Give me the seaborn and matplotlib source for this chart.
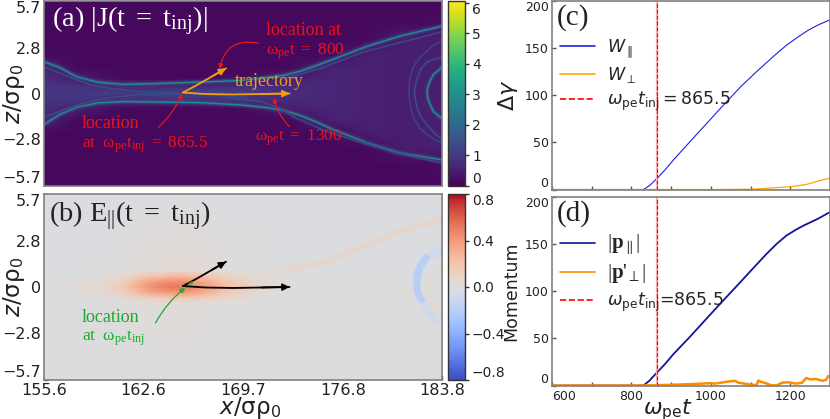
import numpy as np
import pandas as pd
import matplotlib
matplotlib.use("Agg")
import matplotlib.pyplot as plt
from matplotlib.transforms import ScaledTranslation
import seaborn as sns

# time series (c) and (d)
t_w_par = [600, 700, 800, 830, 845, 865, 885, 905, 948, 1000, 1036, 1075, 1115, 1157, 1190, 1220, 1245, 1272, 1300]
w_par = [0, 0, 0, 0, 4, 12, 21, 31, 51, 75, 91.5, 109, 125, 141, 153, 162, 169, 175, 180]
t_w_perp = [600, 800, 1000, 1100, 1160, 1200, 1240, 1270, 1300]
w_perp = [0, 0, 0, 0.3, 1.8, 3, 5.3, 9, 12]
t_p_par = [600, 700, 800, 830, 845, 864, 885, 905, 948, 1000, 1032, 1075, 1110, 1141, 1165, 1190, 1215, 1235, 1245, 1270, 1300]
p_par = [0, 0, 0, 0, 5, 13.7, 23, 33, 52, 76, 90.6, 110, 126, 140, 150, 159, 165.5, 170, 172, 177, 184]
t_p_perp = [600, 830, 880, 950, 1000, 1010, 1040, 1060, 1070, 1100, 1115, 1120, 1125, 1135, 1150, 1165, 1180, 1195,
            1215, 1230, 1240, 1250, 1265, 1280, 1290, 1295, 1300]
p_perp = [0, 0, 0.5, 1.5, 2.5, 2, 4, 5, 3, 1, 0.5, 5.5, 4, 3, 0.5, 0, 3, 3.5, 2, 3, 8, 6.5, 7, 5, 6, 10, 9]
t_inj = 865.5

x_ticks = [155.6, 159.1, 162.6, 166.15, 169.7, 173.25, 176.8, 180.3, 183.8]
x_labels = ["155.6", "", "162.6", "", "169.7", "", "176.8", "", "183.8"]
z_ticks = [-5.7, -2.8, 0, 2.8, 5.7]
z_labels = ["\u22125.7", "\u22122.8", "0", "2.8", "5.7"]

# |J| coarse map
j_x = [155.6, 157.9, 161.2, 165.0, 170.0, 173.0, 176.0, 178.5, 181.0, 183.8]
j_z = [-5.7, -4.4, -3.4, -2.4, -1.6, -0.9, -0.45, 0, 0.45, 0.9, 1.6, 2.4, 3.4, 4.4, 5.7]
j_map = [
    [.12, .12, .12, .12, .12, .12, .12, .12, .12, .12],
    [.12, .12, .12, .12, .12, .12, .12, .12, .12, .2],
    [.12, .12, .12, .12, .12, .12, .12, .15, .45, .5],
    [.15, .12, .12, .12, .12, .12, .15, .5, .5, .5],
    [.6, .15, .12, .12, .12, .15, .55, .55, .5, .5],
    [.8, .5, .15, .12, .2, .5, .65, .55, .5, .5],
    [.9, .9, .6, .6, .85, .7, .65, .55, .5, .5],
    [.9, 1.0, 1.1, 1.4, 1.1, .8, .65, .55, .5, .5],
    [.9, .9, .6, .6, .85, .7, .65, .55, .5, .5],
    [.8, .5, .15, .12, .2, .5, .65, .55, .5, .5],
    [.6, .15, .12, .12, .12, .15, .55, .55, .5, .5],
    [.15, .12, .12, .12, .12, .12, .15, .5, .5, .5],
    [.12, .12, .12, .12, .12, .12, .12, .15, .45, .5],
    [.12, .12, .12, .12, .12, .12, .12, .12, .15, .2],
    [.12, .12, .12, .12, .12, .12, .12, .12, .12, .12],
]

# bright sheets in |J|
top_x = [155.7, 156.7, 157.9, 159.4, 161.2, 163.1, 167.1, 169.5, 171.4, 172.6, 173.7, 174.9, 176.1, 178.5, 180.8, 183.8]
top_z = [1.92, 1.61, 1.03, 0.70, 0.56, 0.60, 0.72, 0.80, 0.99, 1.12, 1.36, 1.72, 2.11, 2.91, 3.53, 4.15]
low_x = [155.7, 156.7, 157.9, 159.4, 161.2, 166.6, 169.5, 171.4, 172.6, 173.7, 174.9, 176.1, 178.5, 180.8, 183.8]
low_z = [-1.86, -1.30, -0.85, -0.58, -0.50, -0.56, -0.70, -0.87, -1.04, -1.34, -1.75, -2.23, -3.04, -3.66, -4.09]
thin_tl_x = [155.7, 157.3, 159.0, 160.6, 162.3, 165.4]
thin_tl_z = [1.61, 1.05, 0.50, 0.28, 0.10, 0.03]
thin_bl_x = [155.7, 157.3, 159.0, 160.6, 162.3, 165.4]
thin_bl_z = [-1.43, -0.90, -0.43, -0.22, -0.08, -0.03]
thin_c_x = [165.4, 168.5, 170.0]
thin_c_z = [0.03, -0.15, -0.25]
thin_br_x = [168.5, 171.0, 172.3, 173.4, 175.8, 180.5, 183.8]
thin_br_z = [-0.25, -0.50, -0.90, -1.50, -2.40, -3.65, -4.30]
thin_tr_x = [172.5, 175.4, 178.2, 183.8]
thin_tr_z = [0.87, 1.60, 2.55, 3.80]
arc1_x = [183.8, 183.2, 182.9, 182.78, 182.74, 182.78, 182.9, 183.2, 183.8]
arc1_z = [1.61, 1.18, 0.68, 0.35, 0.06, -0.25, -0.56, -1.12, -1.55]
arc2_x = [183.8, 183.2, 182.7, 182.3, 182.05, 181.9, 181.85, 181.9, 182.05, 182.3, 182.7, 183.2, 183.8]
arc2_z = [2.23, 2.1, 1.92, 1.5, 0.95, 0.43, 0.05, -0.37, -0.9, -1.43, -1.9, -2.4, -2.85]
arc3_x = [183.8, 183.2, 182.7, 182.2, 181.75, 181.5, 181.45, 181.55, 181.8, 182.2, 182.7, 183.3, 183.8]
arc3_z = [3.22, 3.0, 2.6, 2.2, 1.6, 0.87, 0.0, -0.8, -1.5, -2.1, -2.5, -2.85, -3.04]

# E parallel coarse map
e_x = [155.6, 159.6, 161.2, 162.0, 163.1, 164.5, 165.6, 167.0, 168.4, 170.2, 172.0, 183.8]
e_z = [-5.7, -1.0, -0.65, -0.3, 0.0, 0.3, 0.65, 1.0, 5.7]
e_map = [
    [0, 0, 0, 0, 0, 0, 0, 0, 0, 0, 0, 0],
    [0, 0, 0, .01, .01, .02, .02, .01, .01, 0, 0, 0],
    [0, 0, .04, .08, .14, .18, .18, .14, .08, .03, 0, 0],
    [0, .03, .13, .23, .35, .42, .42, .32, .18, .08, .01, 0],
    [0, .04, .16, .28, .42, .52, .52, .38, .24, .12, .02, 0],
    [-.01, .03, .13, .24, .37, .46, .46, .34, .20, .09, .01, -.01],
    [-.01, .01, .06, .12, .20, .26, .26, .20, .11, .04, 0, -.01],
    [-.015, -.01, 0, .02, .03, .04, .04, .03, .01, 0, -.01, -.015],
    [-.015, -.015, -.015, -.015, -.015, -.015, -.015, -.015, -.015, -.015, -.015, -.015],
]
streak_x = [171.0, 173.0, 176.1, 178.5, 180.8, 183.8]
streak_z = [0.70, 1.05, 1.67, 2.6, 3.4, 4.15]
blue_arc_x = [183.8, 182.7, 182.25, 182.05, 182.0, 182.1, 182.35, 182.9, 183.4]
blue_arc_z = [2.3, 1.8, 1.3, 0.7, 0.0, -0.4, -0.8, -1.6, -2.1]
blue_nose_x = [182.7, 182.25, 182.05, 182.0, 182.1, 182.35]
blue_nose_z = [1.8, 1.3, 0.7, 0.0, -0.4, -0.8]
pink_arc_x = [183.8, 183.0, 182.8, 182.9, 183.8]
pink_arc_z = [1.45, 0.6, -0.2, -1.0, -1.7]

# particle path
up_x = [165.45, 166.5, 167.5, 168.5]
up_z = [0.06, 0.55, 1.05, 1.55]
right_x = [165.45, 167.0, 169.0, 171.0, 173.0]
right_z = [0.06, -0.03, -0.06, -0.03, 0.0]

sns.set_style("ticks")
plt.rcParams["mathtext.rm"] = "Liberation Serif"
plt.rcParams["mathtext.it"] = "Liberation Serif:italic"
plt.rcParams["mathtext.bf"] = "Liberation Serif:bold"

W, H = 830, 419
fig = plt.figure(figsize=(W / 100, H / 100), dpi=100)


def box(l, t, r, b):
    return [l / W, 1 - b / H, (r - l) / W, (b - t) / H]


ax_a = fig.add_axes(box(44, 1, 442, 186))
ax_b = fig.add_axes(box(44, 194, 442, 380))
cax_a = fig.add_axes(box(448, 1, 465, 186))
cax_b = fig.add_axes(box(448, 194, 465, 380))
ax_c = fig.add_axes(box(552, 1, 830, 190))
ax_d = fig.add_axes(box(552, 197, 830, 386))

GREY = "#808080"
INK = "#222222"
SERIF = dict(family="Liberation Serif", math_fontfamily="custom")
vir = plt.get_cmap("viridis")
cw = plt.get_cmap("coolwarm")
mesh_a = ax_a.pcolormesh(j_x, j_z, np.array(j_map), shading="gouraud", cmap=vir, vmin=0, vmax=6.05)
mesh_b = ax_b.pcolormesh(e_x, e_z, np.array(e_map), shading="gouraud", cmap=cw, vmin=-0.8, vmax=0.8)


def curve(ax, xs, ys, color, lw, alpha=1.0, ls="-"):
    sns.lineplot(x=xs, y=ys, ax=ax, estimator=None, sort=False, color=color, linewidth=lw,
                 alpha=alpha, linestyle=ls, legend=False)


def sheet(xs, zs, peak, wide=1.0):
    curve(ax_a, xs, zs, vir(peak * 0.5 / 6.05), 5 * wide, 0.18)
    curve(ax_a, xs, zs, vir(peak * 0.7 / 6.05), 2.8 * wide, 0.4)
    curve(ax_a, xs, zs, vir(peak / 6.05), 1.0 * wide)


sheet(top_x, top_z, 2.9)
sheet(low_x, low_z, 2.9)
for xs, zs in [(thin_tl_x, thin_tl_z), (thin_bl_x, thin_bl_z), (thin_c_x, thin_c_z),
               (thin_br_x, thin_br_z), (thin_tr_x, thin_tr_z)]:
    sheet(xs, zs, 1.6, 0.6)
sheet(arc1_x, arc1_z, 3.2, 0.8)
sheet(arc2_x, arc2_z, 1.7, 0.6)
sheet(arc3_x, arc3_z, 1.4, 0.6)

curve(ax_b, streak_x, streak_z, cw(0.5 + 0.06 / 1.6), 6, 0.5)
curve(ax_b, streak_x[1:], streak_z[1:], cw(0.5 + 0.10 / 1.6), 2.5, 0.6)
curve(ax_b, pink_arc_x, pink_arc_z, cw(0.5 + 0.06 / 1.6), 3, 0.5)
curve(ax_b, blue_arc_x, blue_arc_z, cw(0.5 - 0.10 / 1.6), 6, 0.7)
curve(ax_b, blue_nose_x, blue_nose_z, cw(0.5 - 0.26 / 1.6), 5, 0.6)


def arrow(ax, start, end, color, rad=0.0, lw=0.9, style="-|>", scale=7):
    ax.annotate("", xy=end, xytext=start,
                arrowprops=dict(arrowstyle=style, color=color, lw=lw, mutation_scale=scale, shrinkA=0, shrinkB=0,
                                connectionstyle="arc3,rad=%s" % rad))


# trajectories
TRAJ = "#f39c12"
for ax, col in ((ax_a, TRAJ), (ax_b, "black")):
    curve(ax, up_x, up_z, col, 1.3)
    curve(ax, right_x, right_z, col, 1.3)
    arrow(ax, (up_x[-2], up_z[-2]), (up_x[-1], up_z[-1]), col, lw=1.3, scale=10)
    arrow(ax, (right_x[-2], right_z[-2]), (right_x[-1], right_z[-1]), col, lw=1.3, scale=10)

RED = "#e8141c"
arrow(ax_a, (170.8, 3.1), (168.05, 1.5), RED, rad=0.5)
arrow(ax_a, (163.7, -2.1), (165.4, 0.0), RED, rad=0.1)
arrow(ax_a, (173.0, -2.05), (171.9, -0.25), RED, rad=-0.15)
ax_a.text(171.3, 3.9, "location at", color=RED, size=13, va="center", **SERIF)
ax_a.text(171.3, 2.6, r"$\mathrm{\omega_{pe}t\ =\ 800}$", color=RED, size=12.5, va="center", **SERIF)
ax_a.text(158.3, -1.86, "location", color=RED, size=13, va="center", **SERIF)
ax_a.text(158.3, -3.16, r"$\mathrm{at\ \ \omega_{pe}t_{inj}\ =\ 865.5}$", color=RED, size=12.5, va="center", **SERIF)
ax_a.text(170.55, -2.73, r"$\mathrm{\omega_{pe}t\ =\ 1300}$", color=RED, size=12.5, va="center", **SERIF)
ax_a.text(169.1, 0.74, "trajectory", color=TRAJ, size=13, va="center", **SERIF)
ax_a.text(0.019, 0.89, r"$\mathrm{(a)\ |J(t\ =\ t_{inj})|}$", color="white", size=20.5, va="center",
          transform=ax_a.transAxes, **SERIF)

GREEN = "#1aaa2e"
arrow(ax_b, (163.5, -2.2), (165.6, -0.05), GREEN, rad=-0.1)
curve(ax_b, [165.9, 166.1], [0.2, 0.3], GREEN, 1.5)
ax_b.text(158.3, -1.86, "location", color=GREEN, size=13, va="center", **SERIF)
ax_b.text(158.3, -3.16, r"$\mathrm{at\ \ \omega_{pe}t_{inj}}$", color=GREEN, size=12.5, va="center", **SERIF)
ax_b.text(0.012, 0.88, r"$\mathrm{(b)\ E_{||}(t\ =\ t_{inj})}$", color=INK, size=20.5, va="center",
          transform=ax_b.transAxes, **SERIF)

for ax, tick_col in ((ax_a, "white"), (ax_b, "#333333")):
    ax.set_xlim(155.6, 183.8)
    ax.set_ylim(-5.7, 5.7)
    ax.set_xticks(x_ticks)
    ax.set_yticks(z_ticks)
    ax.set_yticklabels(z_labels)
    ax.tick_params(direction="in", length=3, width=1, color=tick_col, labelsize=11.5)
    ax.tick_params(axis="y", pad=2, labelcolor=INK)
    labs = ax.get_yticklabels()
    labs[0].set_va("bottom")
    labs[-1].set_va("top")
    for s in ax.spines.values():
        s.set_color(GREY)
        s.set_linewidth(1.2)
    ax.set_ylabel(r"$z/\mathrm{\sigma\rho_0}$", fontsize=16.5, color=INK)
    ax.yaxis.set_label_coords(-0.043, 0.5)
ax_a.set_xticklabels([])
ax_b.set_xticklabels(x_labels, color=INK)
lab = ax_b.get_xticklabels()
lab[0].set_transform(lab[0].get_transform() + ScaledTranslation(18 / 100, 0, fig.dpi_scale_trans))
lab[-1].set_transform(lab[-1].get_transform() + ScaledTranslation(-13 / 100, 0, fig.dpi_scale_trans))
ax_b.tick_params(axis="x", pad=2)
ax_b.set_xlabel(r"$x/\mathrm{\sigma\rho_0}$", fontsize=16.5, color=INK)
ax_b.xaxis.set_label_coords(0.518, -0.08)

cb_a = fig.colorbar(mesh_a, cax=cax_a, ticks=[0, 1, 2, 3, 4, 5, 6])
cb_b = fig.colorbar(mesh_b, cax=cax_b, ticks=[-0.8, -0.4, 0, 0.4, 0.8])
cb_b.ax.set_yticklabels(["\u22120.8", "\u22120.4", "0.0", "0.4", "0.8"])
for cb in (cb_a, cb_b):
    cb.ax.tick_params(length=3, width=1, labelsize=10, pad=2, color="#333333", labelcolor=INK)
    cb.outline.set_edgecolor("#333333")
    cb.outline.set_linewidth(1)
    labs = cb.ax.get_yticklabels()
    labs[0].set_va("bottom")
    labs[-1].set_va("top")

# right column
long_c = pd.DataFrame({"t": t_w_par, "v": w_par})
sns.lineplot(data=long_c, x="t", y="v", ax=ax_c, color="#2020e0", linewidth=0.8, label=r"$W_{\parallel}$")
sns.lineplot(x=t_w_perp, y=w_perp, ax=ax_c, color="orange", linewidth=0.9, label=r"$W_{\perp}$")
ax_c.axvline(t_inj, color="#ffb0b0", linewidth=1.6)
ax_c.axvline(t_inj, color="red", linestyle="--", linewidth=0.8, label=r"$\omega_{\mathrm{pe}}t_{\mathrm{inj}}=865.5$")

sns.lineplot(x=t_p_par, y=p_par, ax=ax_d, color="#14149a", linewidth=1.3, label=r"$|\mathbf{p}_{\parallel}|$")
sns.lineplot(x=t_p_perp, y=p_perp, ax=ax_d, color="darkorange", linewidth=1.8, label=r"$|\mathbf{p}$'$_{\perp}|$")
ax_d.axvline(t_inj, color="#ffb0b0", linewidth=1.6)
ax_d.axvline(t_inj, color="red", linestyle="--", linewidth=0.8, label=r"$\omega_{\mathrm{pe}}t_{\mathrm{inj}}$=865.5")

for ax, tag in ((ax_c, "(c)"), (ax_d, "(d)")):
    ax.set_xlim(600, 1300)
    ax.set_ylim(-0.5, 200)
    ax.set_xticks([600, 800, 1000, 1200])
    ax.set_xticks([700, 900, 1100, 1300], minor=True)
    ax.set_yticks([0, 50, 100, 150, 200])
    ax.tick_params(which="both", direction="in", length=3, width=1, color="#555555", labelsize=9, labelcolor=INK)
    ax.tick_params(axis="y", pad=2.5)
    labs = ax.get_yticklabels()
    labs[0].set_va("bottom")
    labs[-1].set_va("top")
    for s in ax.spines.values():
        s.set_color(GREY)
        s.set_linewidth(1.2)
    ax.text(0.018, 0.91, tag, transform=ax.transAxes, size=21, va="center", family="Liberation Serif", color=INK)
    leg = ax.legend(loc="upper left", bbox_to_anchor=(0.029, 0.81), frameon=False, fontsize=12.5, handlelength=2.0,
                    handletextpad=0.7, labelspacing=0.3, borderpad=0, borderaxespad=0)
    for ln in leg.get_lines():
        ln.set_linewidth(1.2)
    if tag == "(d)":
        for t in leg.get_texts()[:2]:
            t.set_math_fontfamily("custom")
            t.set_family("Liberation Serif")
            t.set_fontsize(15)
ax_c.set_xticklabels([])
ax_c.set_xlabel("")
ax_c.set_ylabel(r"$\Delta\gamma$", fontsize=16, color=INK)
ax_c.yaxis.set_label_coords(-0.115, 0.5)
lab = ax_d.get_xticklabels()
lab[0].set_ha("left")
ax_d.tick_params(axis="x", pad=3)
ax_d.set_xlabel(r"$\omega_{\mathrm{pe}}t$", fontsize=16, color=INK)
ax_d.xaxis.set_label_coords(0.417, -0.06)
ax_d.set_ylabel("Momentum", fontsize=12.5, color=INK)
ax_d.yaxis.set_label_coords(-0.115, 0.5)

fig.savefig("out.png", dpi=100)
